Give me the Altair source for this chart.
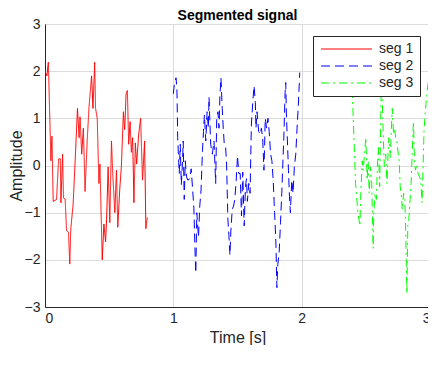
import altair as alt
import pandas as pd

seg1_t = [0.0, 0.015, 0.026, 0.046, 0.054, 0.064, 0.090, 0.106, 0.119, 0.124, 0.137, 0.144, 0.157, 0.168,
          0.183, 0.193, 0.201, 0.219, 0.235, 0.253, 0.266, 0.273, 0.286, 0.299, 0.312, 0.330, 0.343, 0.363,
          0.374, 0.387, 0.394, 0.407, 0.420, 0.428, 0.446, 0.459, 0.472, 0.480, 0.492, 0.505, 0.518, 0.528,
          0.544, 0.557, 0.567, 0.583, 0.595, 0.611, 0.621, 0.632, 0.642, 0.652, 0.663, 0.673, 0.683, 0.693,
          0.704, 0.714, 0.730, 0.745, 0.760, 0.776, 0.786, 0.797]
seg1_v = [2.0, 1.90, 2.19, 0.10, 0.62, -0.76, -0.72, 0.14, 0.14, -0.79, 0.24, -0.69, -0.71, -1.38,
          -1.41, -2.09, -1.34, -0.83, 0.10, 1.21, 0.59, 1.03, 0.24, 0.79, -0.55, 0.59, 1.24, 1.90,
          1.21, 2.19, 1.21, 1.0, -0.38, 0.03, -2.0, -1.24, -1.62, -1.14, -0.03, -1.21, 0.52, -0.17,
          -1.0, -0.10, -1.31, -0.48, -0.03, 1.14, 0.76, 1.52, 1.59, 0.45, 0.93, 0.28, 0.59, -0.79,
          0.48, 0.03, 0.66, 1.0, -0.31, 0.52, -1.34, -1.10]

seg2_t = [1.0, 1.008, 1.021, 1.028, 1.034, 1.046, 1.054, 1.062, 1.072, 1.077, 1.085, 1.093, 1.103, 1.113,
          1.129, 1.139, 1.149, 1.160, 1.170, 1.175, 1.183, 1.196, 1.206, 1.216, 1.227, 1.235, 1.242, 1.253,
          1.263, 1.273, 1.278, 1.291, 1.304, 1.317, 1.330, 1.338, 1.348, 1.356, 1.363, 1.371, 1.381, 1.389,
          1.397, 1.407, 1.415, 1.425, 1.433, 1.441, 1.448, 1.459, 1.469, 1.479, 1.490, 1.500, 1.510, 1.521,
          1.531, 1.541, 1.552, 1.562, 1.570, 1.577, 1.588, 1.598, 1.608, 1.619, 1.629, 1.639, 1.644, 1.652,
          1.665, 1.678, 1.686, 1.696, 1.706, 1.711, 1.716, 1.727, 1.737, 1.747, 1.758, 1.768, 1.778, 1.789,
          1.799, 1.807, 1.814, 1.825, 1.835, 1.845, 1.853, 1.861, 1.871, 1.876, 1.881, 1.889, 1.897, 1.905,
          1.912, 1.923, 1.933, 1.943, 1.954, 1.964, 1.974, 1.985]
seg2_v = [1.52, 1.72, 1.86, 1.62, 0.59, -0.17, 0.45, -0.41, 0.10, 0.52, -0.72, 0.10, -0.24, -0.31,
          -0.28, -0.07, -0.45, -0.90, -1.90, -2.28, -1.00, -1.52, -0.86, -0.52, 0.31, 0.72, 1.07, 0.52,
          1.14, 0.79, 1.45, 0.45, 0.24, 0.52, -0.38, 1.0, 1.14, 0.79, 1.48, 1.86, 1.21, 0.79,
          0.45, 0.41, 0.03, -1.14, -1.48, -1.90, -1.41, -0.93, -0.86, -0.72, -0.31, 0.21, -0.17, -0.17,
          -1.07, -0.14, -1.28, -0.45, -0.28, -0.76, -0.38, -0.59, 0.86, 1.34, 1.69, 1.34, 0.79, 1.14,
          0.72, 0.66, 0.79, 0.59, -0.10, 0.38, 1.0, 0.79, 1.0, 0.72, 0.24, 0.10, -0.31, -1.0,
          -1.62, -2.59, -2.10, -1.83, -1.21, -0.59, 0.03, 0.59, 1.55, 1.76, 1.07, 0.52, -0.10, -0.66,
          -1.00, -0.31, -0.59, -0.03, 0.24, 0.79, 1.28, 1.97]

seg3_t = [2.394, 2.420, 2.438, 2.454, 2.459, 2.472, 2.479, 2.490, 2.500, 2.510, 2.518, 2.526, 2.536, 2.546,
          2.557, 2.562, 2.572, 2.582, 2.590, 2.598, 2.608, 2.619, 2.626, 2.634, 2.644, 2.655, 2.665, 2.673,
          2.680, 2.691, 2.698, 2.706, 2.716, 2.724, 2.732, 2.742, 2.750, 2.760, 2.768, 2.776, 2.784, 2.794,
          2.804, 2.812, 2.820, 2.827, 2.835, 2.845, 2.853, 2.861, 2.871, 2.879, 2.887, 2.897, 2.907, 2.918,
          2.928, 2.938, 2.946, 2.954, 2.964, 2.974, 2.985, 2.995, 3.0]
seg3_v = [1.6, -0.38, -1.0, -1.28, -0.72, 0.10, -0.10, 0.24, 0.59, -0.31, 0.10, -0.59, -0.03, -0.38,
          -1.76, -1.00, -0.59, -0.72, -0.03, 0.38, -0.45, 1.48, 1.7, 0.79, -0.03, 0.24, -0.38, 0.24,
          0.59, 0.17, 0.72, 1.21, 0.66, 0.79, 0.59, 0.52, 0.31, 0.10, -0.45, -0.59, -0.93, -0.59,
          -0.72, -1.55, -2.72, -1.28, -1.14, -0.72, -0.38, 0.24, 0.93, 0.10, -0.10, 0.03, -0.17, -0.24,
          -0.31, -0.79, -0.03, 0.79, 1.14, 1.48, 1.76, 2.17, 2.31]

series_names = ["seg 1", "seg 2", "seg 3"]
series_colors = ["#ff0000", "#0000ff", "#00ff00"]
series_dashes = [[1, 0], [9, 5], [8, 4, 2, 4]]
x_ticks = [0, 1, 2, 3]
y_ticks = [-3, -2, -1, 0, 1, 2, 3]

rows = []
for name, ts, vs in zip(series_names, [seg1_t, seg2_t, seg3_t], [seg1_v, seg2_v, seg3_v]):
    for i, (t, v) in enumerate(zip(ts, vs)):
        rows.append({"t": t, "v": v, "seg": name, "order": i})
df = pd.DataFrame(rows)

FONT = "Liberation Sans"
TXT = "#262626"

chart = alt.Chart(df).mark_line(strokeWidth=1, clip=True).encode(
    x=alt.X("t:Q", title="Time [s]",
            scale=alt.Scale(domain=[0, 3], nice=False, zero=False),
            axis=alt.Axis(values=x_ticks, format="d")),
    y=alt.Y("v:Q", title="Amplitude",
            scale=alt.Scale(domain=[-3, 3], nice=False, zero=False),
            axis=alt.Axis(values=y_ticks, format="d")),
    color=alt.Color("seg:N", scale=alt.Scale(domain=series_names, range=series_colors),
                    legend=alt.Legend(title=None, orient="none", legendX=268, legendY=12,
                                      symbolType="M-1,0H9.2", symbolSize=100, symbolStrokeWidth=1,
                                      labelFont=FONT, labelFontSize=14, labelColor=TXT,
                                      labelExpr="datum.label + '  '",
                                      rowPadding=3, labelOffset=46,
                                      fillColor="white", strokeColor=TXT,
                                      padding=6)),
    strokeDash=alt.StrokeDash("seg:N", scale=alt.Scale(domain=series_names, range=series_dashes),
                              legend=None),
    order="order:Q",
    detail="seg:N",
).properties(
    width=385, height=283,
    title=alt.TitleParams("Segmented signal", font=FONT, fontSize=14, fontWeight="bold",
                          color="black", offset=-6, frame="group"),
    padding={"left": 0, "top": 1, "right": -3, "bottom": 0},
).configure_view(
    stroke=TXT, strokeWidth=1
).configure_axis(
    labelFont=FONT, labelFontSize=14, labelColor=TXT,
    titleFont=FONT, titleFontSize=16, titleColor=TXT, titleFontWeight="normal",
    domainColor=TXT, tickSize=0, labelPadding=5,
    gridColor="#dcdcdc", gridWidth=1,
).configure_axisX(titlePadding=4, labelPadding=4).configure_axisY(titlePadding=0)

chart.save("out.html", embed_options={"renderer": "svg", "actions": False})
